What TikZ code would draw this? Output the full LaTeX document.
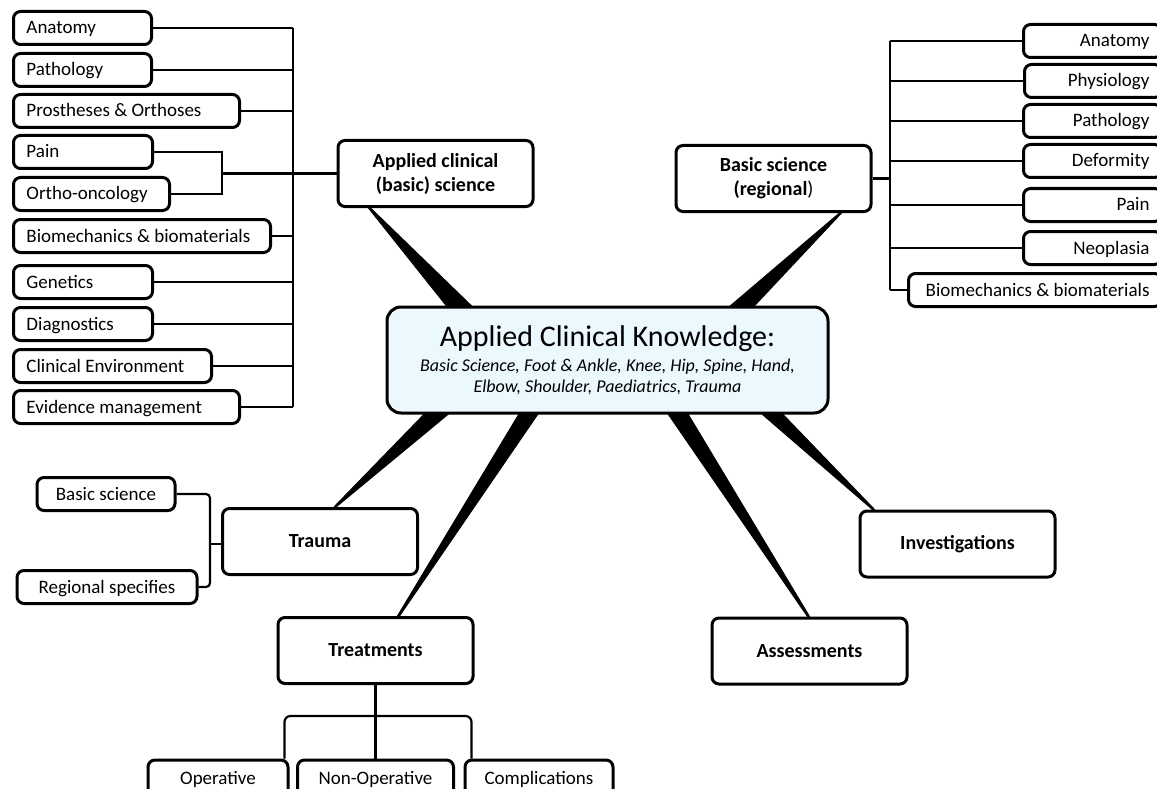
\documentclass[tikz,border=0pt]{standalone}
\usepackage{fontspec}
\setmainfont{Carlito}
\usetikzlibrary{calc,backgrounds}
\newcommand{\lbtext}[2]{\makebox[#1][l]{#2}}
\newcommand{\rbtext}[2]{\makebox[#1][r]{#2}}
\newcommand{\natsp}{\spaceskip=0pt \xspaceskip=0pt }
\tikzset{
  conn/.style={line width=2.2pt},
  bx/.style={draw, line width=3pt, rounded corners=7pt, fill=white, inner sep=0pt},
  lbox/.style={bx, anchor=west, minimum height=33pt, inner xsep=13pt, text height=12pt, text depth=0pt, font=\fontsize{19}{21}\selectfont},
  rbox/.style={bx, anchor=west, minimum height=33pt, inner xsep=12pt, text height=12pt, text depth=0pt, font=\fontsize{19}{21}\selectfont},
  bigbox/.style={bx, minimum width=195pt, minimum height=66pt, align=center, font=\fontsize{20}{24}\selectfont\bfseries},
  sbox/.style={bx, minimum height=33pt, text height=12pt, text depth=0pt, font=\fontsize{19}{21}\selectfont},
  spoke/.style={fill=black, draw=black, line width=1pt, line join=round},
}
\begin{document}
\begin{tikzpicture}[x=1pt,y=-1pt]
\useasboundingbox (0,0) rectangle (1157,789);
\clip (0,0) rectangle (1157,789);

% centre
\node[bx, fill=cyan!8, rounded corners=14pt, minimum width=441pt, minimum height=106pt, align=center, font=\fontsize{18}{21}\selectfont] (ctr) at (607.5,360)
 {{\natsp\fontsize{30}{31}\selectfont Applied Clinical Knowledge:}\\[4pt]
  {\itshape Basic Science, Foot \& Ankle, Knee, Hip, Spine, Hand,}\\
  {\itshape Elbow, Shoulder, Paediatrics, Trauma}};

% branch boxes
\node[bigbox] (acs) at (435.5,173.5) {Applied clinical\\(basic) science};
\node[bigbox] (bsr) at (773.5,178.5) {Basic science\\(regional{\mdseries)}};
\node[bigbox] (trauma) at (320,541.5) {Trauma};
\node[bigbox] (invest) at (957.5,544) {Investigations};
\node[bigbox] (treat) at (375.5,650.5) {Treatments};
\node[bigbox] (assess) at (809.5,651) {Assessments};

% spokes
\begin{pgfonlayer}{background}
\filldraw[spoke] ($(ctr.north west)+(71,13)$) -- ($(ctr.north west)+(99,13)$) -- ($(acs.south west)+(34,0)$) -- ($(acs.south west)+(32,0)$) -- cycle;
\filldraw[spoke] ($(ctr.north west)+(330,13)$) -- ($(ctr.north west)+(357,13)$) -- ($(bsr.south east)+(-31,0)$) -- ($(bsr.south east)+(-33,0)$) -- cycle;
\filldraw[spoke] ($(ctr.south west)+(51,-13)$) -- ($(ctr.south west)+(78,-13)$) -- ($(trauma.north west)+(115,0)$) -- ($(trauma.north west)+(113,0)$) -- cycle;
\filldraw[spoke] ($(ctr.south west)+(141,-13)$) -- ($(ctr.south west)+(161,-13)$) -- ($(treat.north west)+(123,0)$) -- ($(treat.north west)+(121,0)$) -- cycle;
\filldraw[spoke] ($(ctr.south west)+(274,-13)$) -- ($(ctr.south west)+(295,-13)$) -- ($(assess.north west)+(99,0)$) -- ($(assess.north west)+(97,0)$) -- cycle;
\filldraw[spoke] ($(ctr.south west)+(362,-13)$) -- ($(ctr.south west)+(385,-13)$) -- ($(invest.north west)+(16,0)$) -- ($(invest.north west)+(14,0)$) -- cycle;
\end{pgfonlayer}

% left list
\node[lbox] (l1) at (12,28) {\lbtext{112pt}{Anatomy}};
\node[lbox] (l2) at (12,70) {\lbtext{112pt}{Pathology}};
\node[lbox] (l3) at (12,111) {\lbtext{200pt}{Prostheses \& Orthoses}};
\node[lbox] (l4) at (12,152) {\lbtext{113pt}{Pain}};
\node[lbox] (l5) at (12,194) {\lbtext{130pt}{Ortho-oncology}};
\node[lbox] (l6) at (12,236) {\lbtext{231pt}{Biomechanics \& biomaterials}};
\node[lbox] (l7) at (12,282) {\lbtext{113pt}{Genetics}};
\node[lbox] (l8) at (12,324) {\lbtext{113pt}{Diagnostics}};
\node[lbox] (l9) at (12,366) {\lbtext{172pt}{Clinical Environment}};
\node[lbox] (l10) at (12,407) {\lbtext{200pt}{Evidence management}};

\coordinate (lbT) at (293,28);
\coordinate (lbB) at (293,407);
\draw[conn] (lbT) -- (lbB);
\foreach \n in {l1,l2,l3,l6,l7,l8,l9,l10} \draw[conn] (\n) -- (\n -| lbT);
\coordinate (pb) at (222,173.5);
\draw[conn] (l4) -| (pb);
\draw[conn] (l5) -| (pb);
\draw[conn] (pb) -- (pb -| acs.west);

% right list
\node[rbox] (r1) at (1022,41) {\rbtext{114pt}{Anatomy}};
\node[rbox] (r2) at (1023,81) {\rbtext{113pt}{Physiology}};
\node[rbox] (r3) at (1022,121) {\rbtext{114pt}{Pathology}};
\node[rbox] (r4) at (1022,161) {\rbtext{114pt}{Deformity}};
\node[rbox] (r5) at (1022,205) {\rbtext{114pt}{Pain}};
\node[rbox] (r6) at (1022,248) {\rbtext{114pt}{Neoplasia}};
\node[rbox] (r7) at (907,290) {\rbtext{229pt}{Biomechanics \& biomaterials}};

\coordinate (rbT) at (890,41);
\coordinate (rbB) at (890,290);
\draw[conn] (rbT) -- (rbB);
\foreach \n in {r1,r2,r3,r4,r5,r6,r7} \draw[conn] (\n) -- (\n -| rbT);
\draw[conn] (bsr) -- (bsr -| rbT);

% trauma subs
\node[sbox, minimum width=138pt] (ts1) at (106,494) {Basic science};
\node[sbox, minimum width=180pt] (ts2) at (107,587) {Regional specifies};
\coordinate (tb) at (210,544);
\draw[conn, rounded corners=4pt] (ts1) -| (tb);
\draw[conn, rounded corners=4pt] (ts2) -| (tb);
\draw[conn] (tb) -- (tb -| trauma.west);

% treatments subs
\node[sbox, minimum width=140pt, minimum height=36pt] (op) at (218,778) {Operative};
\node[sbox, minimum width=156pt, minimum height=36pt] (nonop) at (375.5,778) {Non-Operative};
\node[sbox, minimum width=148pt, minimum height=36pt] (comp) at (539,778) {Complications};
\coordinate (tj) at (375.5,716);
\draw[conn] (treat.south) -- (treat.south |- nonop.north);
\draw[conn, rounded corners=6pt] ($(op.north east)+(-5,0)$) |- (tj) -| ($(comp.north west)+(8,0)$);
\end{tikzpicture}
\end{document}
